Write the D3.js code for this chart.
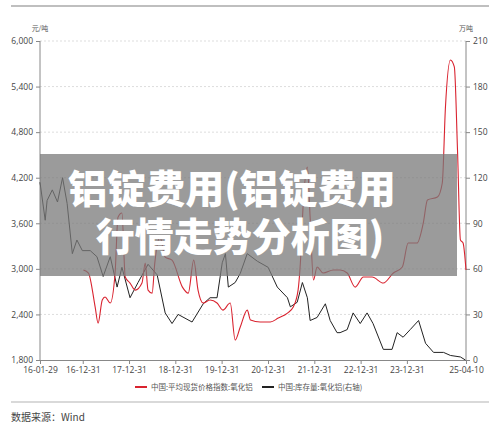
<!DOCTYPE html>
<html><head><meta charset="utf-8">
<script src="https://cdn.jsdelivr.net/npm/d3@7"></script>
<style>body{margin:0;background:#fff;font-family:"Noto Sans CJK SC","Noto Sans",sans-serif}</style>
</head><body><div id="chart"></div>
<script>
// price index (left axis, 元/吨)
const priceDates = ["2017-01-05","2017-02-14","2017-04-08","2017-05-01","2017-06-03","2017-06-25","2017-08-05","2017-09-12","2017-10-05","2017-11-05","2017-12-01","2018-01-08","2018-02-18","2018-04-12","2018-05-08","2018-05-30","2018-07-01","2018-07-22","2018-09-01","2018-10-12","2018-12-05","2019-02-25","2019-04-12","2019-05-25","2019-06-28","2019-08-08","2019-10-01","2019-11-25","2020-01-10","2020-03-08","2020-04-16","2020-05-26","2020-07-20","2020-08-15","2020-10-30","2021-01-18","2021-03-22","2021-06-02","2021-07-18","2021-08-25","2021-09-12","2021-10-05","2021-11-06","2021-11-28","2021-12-24","2022-01-22","2022-03-10","2022-05-30","2022-07-22","2022-09-16","2022-11-18","2023-01-22","2023-04-01","2023-06-28","2023-09-15","2023-11-25","2024-01-10","2024-03-20","2024-05-08","2024-06-10","2024-08-28","2024-10-05","2024-10-30","2024-12-08","2025-01-08","2025-02-02","2025-02-25","2025-03-18","2025-04-10"];
const priceValues = [2984,2945,2497,2286,2590,2630,2550,2945,3680,3735,2892,2813,2720,2813,3076,2720,2680,3076,3420,3155,3115,2760,2680,3115,2720,2550,2590,2550,2457,2550,2062,2234,2457,2326,2300,2300,2352,2418,2497,2720,3076,3866,4340,3680,2853,3024,2945,2984,2984,2945,2760,2892,2892,2813,2945,3024,3340,3340,3603,3906,3945,4130,5131,5750,5658,4565,3380,3340,2984];
// inventory (right axis, 万吨)
const stockDates = ["2016-01-29","2016-03-10","2016-03-25","2016-05-05","2016-06-15","2016-07-25","2016-08-30","2016-10-10","2016-11-15","2016-12-28","2017-02-28","2017-04-22","2017-06-10","2017-08-05","2017-09-28","2017-11-05","2018-01-08","2018-03-12","2018-05-30","2018-08-10","2018-10-12","2018-12-05","2019-01-22","2019-05-12","2019-08-08","2019-10-01","2019-11-25","2020-01-05","2020-01-30","2020-02-22","2020-04-16","2020-05-26","2020-07-20","2020-10-08","2021-01-01","2021-03-14","2021-06-02","2021-06-25","2021-08-18","2021-09-28","2021-11-06","2021-11-28","2022-01-22","2022-03-28","2022-05-05","2022-06-28","2022-07-22","2022-09-16","2022-11-02","2022-12-28","2023-02-20","2023-04-08","2023-06-28","2023-09-05","2023-10-15","2023-12-01","2024-01-26","2024-04-01","2024-05-26","2024-07-28","2024-10-15","2024-12-08","2025-02-25","2025-04-05"];
const stockValues = [117,92,105,112,104,120,103,70,79,72,72,68,55,68,48,61,41,51,63,56,31,24,30,25,37,41,41,64,70,48,51,57,70,65,61,48,41,35,38,51,41,26,28,37,26,18,18,20,31,24,31,24,7,7,18,15,20,26,11,5,5,3,2,0];
const leftTicks = [1800,2400,3000,3600,4200,4800,5400,6000];
const rightTicks = [0,30,60,90,120,150,180,210];
const xTickLabels = ["16-01-29","16-12-31","17-12-31","18-12-31","19-12-31","20-12-31","21-12-31","22-12-31","23-12-31","25-04-10"];
const seriesNames = ["中国:平均现货价格指数:氧化铝","中国:库存量:氧化铝(右轴)"];

const W = 500, H = 430, m = {top: 41, right: 34, bottom: 70, left: 40};
const parse = d3.timeParse("%Y-%m-%d");
const svg = d3.select("#chart").append("svg").attr("width", W).attr("height", H);

const x = d3.scaleTime().domain([parse("2016-01-29"), parse("2025-04-10")]).range([m.left, W - m.right]);
const yL = d3.scaleLinear().domain([1800, 6000]).range([H - m.bottom, m.top]);
const yR = d3.scaleLinear().domain([0, 210]).range([H - m.bottom, m.top]);

svg.append("line").attr("x1", 11).attr("x2", 489).attr("y1", 6).attr("y2", 6).attr("stroke", "#aaa").attr("stroke-width", 1.5);
svg.append("line").attr("x1", 11).attr("x2", 489).attr("y1", 402).attr("y2", 402).attr("stroke", "#ccc").attr("stroke-width", 1.5);

// grid
svg.append("g").selectAll("line").data(leftTicks.slice(1)).join("line")
  .attr("x1", m.left).attr("x2", W - m.right).attr("y1", d => yL(d)).attr("y2", d => yL(d))
  .attr("stroke", "#ddd").attr("stroke-dasharray", "2,2");

const fmt = d3.format(",");
const axL = svg.append("g").attr("transform", `translate(${m.left},0)`).call(d3.axisLeft(yL).tickValues(leftTicks).tickFormat(fmt).tickSize(4));
const axR = svg.append("g").attr("transform", `translate(${W - m.right},0)`).call(d3.axisRight(yR).tickValues(rightTicks).tickSize(4));
const xTickDates = xTickLabels.map(s => parse("20" + s));
const axB = svg.append("g").attr("transform", `translate(0,${H - m.bottom})`)
  .call(d3.axisBottom(x).tickValues(xTickDates).tickFormat((d, i) => xTickLabels[i]).tickSize(4));
[axL, axR, axB].forEach(a => {
  a.selectAll("path,line").attr("stroke", "#888");
  a.selectAll("text").attr("fill", "#444").style("font-size", "8.5px").style("font-family", "Open Sans, sans-serif");
});
axL.select(".domain").attr("d", `M0,${m.top}V${H - m.bottom}`);
axR.select(".domain").attr("d", `M0,${m.top}V${H - m.bottom}`);

svg.append("text").attr("x", 40).attr("y", 31).attr("text-anchor", "middle").attr("font-size", 7).attr("fill", "#555").text("元/吨");
svg.append("text").attr("x", 466).attr("y", 31).attr("text-anchor", "middle").attr("font-size", 7).attr("fill", "#555").text("万吨");

const lineP = d3.line().x((d, i) => x(parse(priceDates[i]))).y(d => yL(d)).curve(d3.curveMonotoneX);
const lineS = d3.line().x((d, i) => x(parse(stockDates[i]))).y(d => yR(d));
svg.append("path").attr("d", lineS(stockValues)).attr("fill", "none").attr("stroke", "#222").attr("stroke-width", 1);
svg.append("path").attr("d", lineP(priceValues)).attr("fill", "none").attr("stroke", "#d9232f").attr("stroke-width", 1.1);

// legend
const leg = svg.append("g").attr("font-size", 7.5).attr("fill", "#555");
[[135, "#d9232f"], [262, "#222"]].forEach(([lx, c], i) => {
  leg.append("line").attr("x1", lx).attr("x2", lx + 12).attr("y1", 387).attr("y2", 387).attr("stroke", c).attr("stroke-width", 2);
  leg.append("text").attr("x", lx + 16).attr("y", 390).text(seriesNames[i]);
});
svg.append("text").attr("x", 11).attr("y", 421).attr("font-size", 10).attr("fill", "#444").text("数据来源：Wind");

// title overlay
svg.append("rect").attr("x", 40).attr("y", 154).attr("width", 417).attr("height", 122).attr("fill", "#7a7a7a").attr("opacity", 0.75);
const tt = svg.append("g").attr("fill", "#fff").attr("font-weight", 900).attr("font-size", 39).attr("text-anchor", "middle");
tt.append("text").attr("x", 232).attr("y", 203).text("铝锭费用(铝锭费用");
tt.append("text").attr("x", 240).attr("y", 251).text("行情走势分析图)");
</script></body></html>
